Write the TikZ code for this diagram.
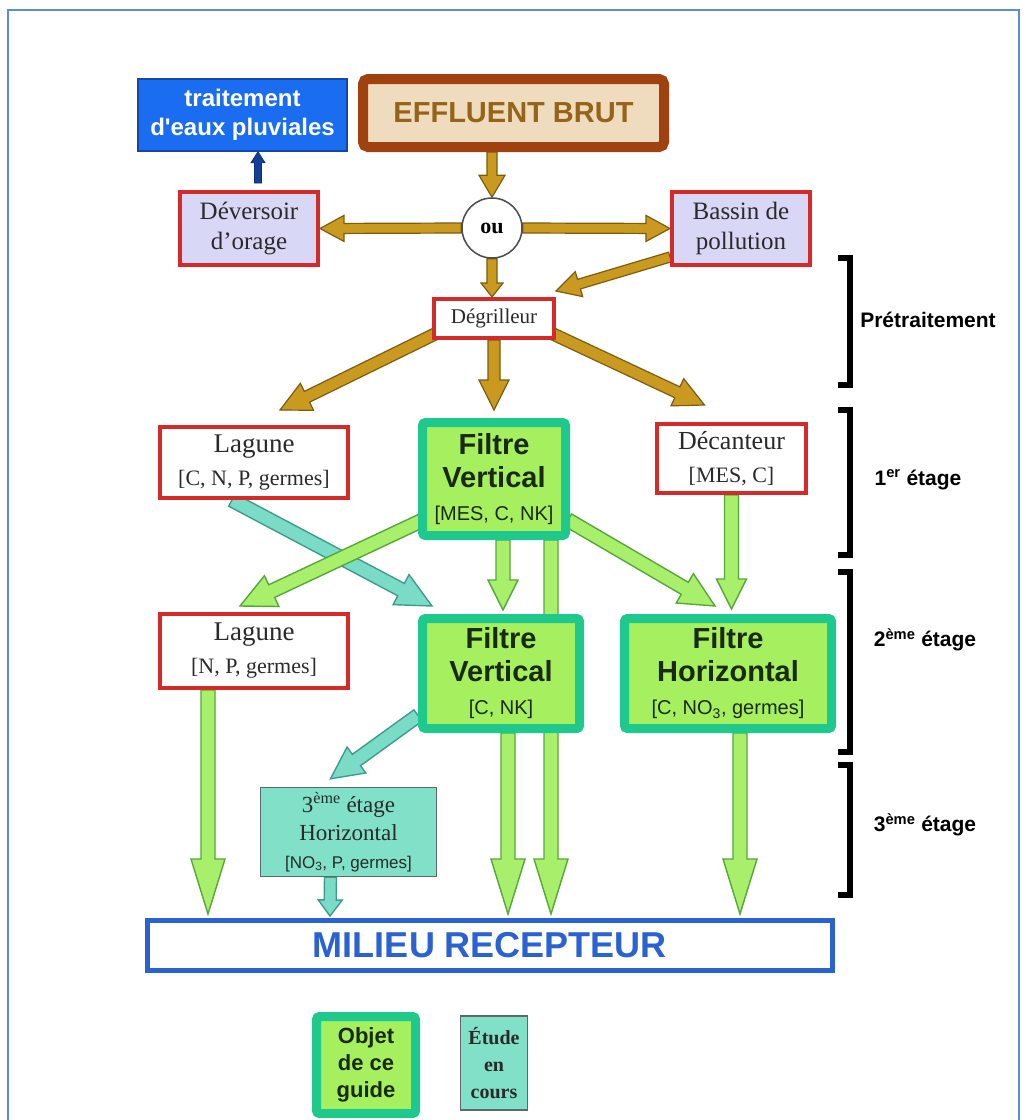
\documentclass[tikz,border=0pt]{standalone}
\usepackage{fontspec}
\setmainfont{Liberation Serif}
\newfontfamily\arial{Liberation Sans}
\usetikzlibrary{calc}
\pgfdeclarelayer{bg}
\pgfsetlayers{bg,main}
\definecolor{framec}{HTML}{5B8FD0}
\definecolor{pluvf}{HTML}{1A6CF0}
\definecolor{pluvd}{HTML}{1546A8}
\definecolor{effd}{HTML}{A0420F}
\definecolor{efff}{HTML}{EFDCBE}
\definecolor{efft}{HTML}{966418}
\definecolor{redc}{HTML}{D42A2A}
\definecolor{lavf}{HTML}{D8D8F6}
\definecolor{greenf}{HTML}{A6EF5E}
\definecolor{greenb}{HTML}{1FC98E}
\definecolor{tealf}{HTML}{80E0C8}
\definecolor{teald}{HTML}{5A6A66}
\definecolor{milc}{HTML}{2A62D2}
\definecolor{goldf}{HTML}{C99A1F}
\definecolor{goldd}{HTML}{7D5C12}
\definecolor{greenA}{HTML}{A8F06C}
\definecolor{greenAd}{HTML}{55A838}
\definecolor{tealA}{HTML}{7ADCC6}
\definecolor{tealAd}{HTML}{3F9C8C}
\definecolor{textc}{HTML}{2A2A2A}
\definecolor{gtext}{HTML}{1A2A10}
\newcommand{\fs}[2]{\fontsize{#1}{#2}\selectfont}
% fat arrow: style, from, to, half shaft, half head, head length
\newcommand{\fatarrow}[6]{%
  \coordinate (fah) at ($(#3)!#6!(#2)$);
  \path[#1] ($(#2)!#4!90:(#3)$) -- ($(fah)!#4!-90:(#2)$) -- ($(fah)!#5!-90:(#2)$) -- (#3)
    -- ($(fah)!#5!90:(#2)$) -- ($(fah)!#4!90:(#2)$) -- ($(#2)!#4!-90:(#3)$) -- cycle;}
\tikzset{
  box/.style={align=center, inner sep=0pt, text=textc},
  bluebox/.style={box, draw=pluvd, line width=1.5pt, fill=pluvf, text=white,
    font=\arial\bfseries\fs{24}{29}},
  efflbox/.style={box, draw=effd, line width=10pt, fill=efff, rounded corners=5pt,
    text=efft, font=\arial\bfseries\fs{29}{34}},
  redbox/.style={box, draw=redc, line width=4pt, fill=white, font=\fs{26}{30}},
  lavbox/.style={redbox, fill=lavf, font=\fs{25}{30}},
  greenbox/.style={box, draw=greenb, line width=9pt, fill=greenf, rounded corners=3pt,
    text=gtext, font=\arial\bfseries\fs{29}{33}},
  tealbox/.style={box, draw=teald, line width=1.5pt, fill=tealf},
  milbox/.style={box, draw=milc, line width=5pt, fill=white, text=milc,
    font=\arial\bfseries\fs{36}{40}},
  oucirc/.style={circle, draw=black!70, line width=1.5pt, fill=white, inner sep=0pt,
    minimum size=60pt, font=\bfseries\fs{22}{24}},
  goldarr/.style={fill=goldf, draw=goldd, line width=1.2pt, line join=miter},
  greenarr/.style={fill=greenA, draw=greenAd, line width=1.4pt, line join=miter},
  tealarr/.style={fill=tealA, draw=tealAd, line width=1.4pt, line join=miter},
  bluearr/.style={fill=pluvd!90!black, draw=pluvd!70!black, line width=0.8pt},
  brk/.style={line width=6pt, black, line join=miter},
  lab/.style={font=\arial\bfseries\fs{21}{24}, text=black, inner sep=0pt}
}
\begin{document}
\begin{tikzpicture}[x=1pt,y=-1pt]
\useasboundingbox (0,0) rectangle (1026,1120);
\begin{pgfonlayer}{bg}
\fill[white] (0,0) rectangle (1026,1120);
\end{pgfonlayer}
\draw[framec, line width=1.5pt] (8,10) rectangle (1019,1140);

% nodes
\node[bluebox, minimum width=209pt, minimum height=72pt] (pluv) at (242.5,115) {traitement\\d'eaux pluviales};
\node[efflbox, minimum width=301pt, minimum height=68pt] (eff) at (513.5,113) {EFFLUENT BRUT};
\node[lavbox, minimum width=138pt, minimum height=73pt] (dev) at (249,228.5) {Déversoir\\d'orage};
\node[oucirc] (ou) at (492,228) {ou};
\node[lavbox, minimum width=138pt, minimum height=73pt] (bas) at (741,228.5) {Bassin de\\pollution};
\node[redbox, font=\fs{21}{24}, minimum width=120pt, minimum height=39pt] (deg) at (494,318.5) {Dégrilleur};
\node[redbox, font=\fs{27}{30}, minimum width=188pt, minimum height=71pt] (lag1) at (254,462.5)
  {Lagune\\[3pt]\fs{22}{26}\relax[C, N, P, germes]};
\node[greenbox, minimum width=143pt, minimum height=113pt] (fv1) at (494,479)
  {Filtre\\Vertical\\\mdseries\fs{20}{26}\relax[MES, C, NK]};
\node[redbox, minimum width=149pt, minimum height=69pt] (dec) at (731.5,458.5)
  {Décanteur\\[3pt]\fs{22}{26}\relax[MES, C]};
\node[redbox, font=\fs{27}{30}, minimum width=188pt, minimum height=74pt] (lag2) at (254,651)
  {Lagune\\[3pt]\fs{22}{26}\relax[N, P, germes]};
\node[greenbox, minimum width=157pt, minimum height=110pt] (fv2) at (501,673.5)
  {Filtre\\Vertical\\\mdseries\fs{20}{26}\relax[C, NK]};
\node[greenbox, minimum width=207pt, minimum height=110pt] (fh) at (728,673.5)
  {Filtre\\Horizontal\\\mdseries\fs{20}{26}\relax[C, NO\textsubscript{3}, germes]};
\node[tealbox, font=\fs{23}{28}, minimum width=176pt, minimum height=89pt] (e3) at (348.5,832)
  {3\textsuperscript{ème} étage\\Horizontal\\\arial\fs{17}{21}\relax[NO\textsubscript{3}, P, germes]};
\node[milbox, minimum width=685pt, minimum height=50pt] (mil) at (490,945.5) {MILIEU RECEPTEUR};
\node[greenbox, font=\arial\bfseries\fs{22}{27}, minimum width=99pt, minimum height=97pt] (obj) at (366,1065) {Objet\\de ce\\guide};
\node[tealbox, font=\bfseries\fs{20}{27}, minimum width=67pt, minimum height=94pt] (etu) at (494,1063) {Étude\\en\\cours};

% stage labels
\node[lab] (l1) at (928,320) {Prétraitement};
\node[lab] (l2) at (918,480) {1\textsuperscript{er} étage};
\node[lab] (l3) at (925,640) {2\textsuperscript{ème} étage};
\node[lab] (l4) at (925,825) {3\textsuperscript{ème} étage};
\draw[brk] (838,258) -- (850,258) -- (850,385) -- (838,385);
\draw[brk] (838,410) -- (850,410) -- (850,555) -- (838,555);
\draw[brk] (838,572) -- (850,572) -- (850,752) -- (838,752);
\draw[brk] (838,765) -- (850,765) -- (850,895) -- (838,895);

% connector end points
\coordinate (a1) at (eff.south -| ou.north);
\coordinate (o1) at (ou.south |- deg.north);
\coordinate (b1) at ($(bas.south west)+(0,-10)$);
\coordinate (b2) at ($(deg.north east)+(0,-6)$);
\coordinate (d1) at ($(deg.south west)+(3,-6)$);
\coordinate (d2) at ($(lag1.north east)+(-70,-15)$);
\coordinate (d3) at (deg.south);
\coordinate (d4) at ($(fv1.north)+(0,-8)$);
\coordinate (d5) at ($(deg.south east)+(-3,-6)$);
\coordinate (d6) at ($(dec.north)+(-27,-17)$);
\coordinate (p1) at ($(dev.north)+(9,-7)$);
\coordinate (p2) at ($(pluv.south)+(15.5,0)$);
\coordinate (f1) at ($(fv1.south west)+(5,-20)$);
\coordinate (f2) at ($(lag2.north)+(-14,-6)$);
\coordinate (f3) at ($(fv1.south)+(9,0)$);
\coordinate (f4) at ($(fv2.north)+(2,-4)$);
\coordinate (f5) at ($(fv1.south)+(57,0)$);
\coordinate (f6) at ($(mil.north)+(61,-4)$);
\coordinate (f7) at ($(fv1.south east)+(-2,-20)$);
\coordinate (f8) at ($(fh.north)+(-13,-8)$);
\coordinate (f9) at (dec.south);
\coordinate (f10) at ($(fh.north)+(3.5,-5)$);
\coordinate (g1) at ($(lag2.south)+(-46,0)$);
\coordinate (g2) at ($(mil.north)+(-282,-4)$);
\coordinate (g3) at ($(fv2.south)+(7,0)$);
\coordinate (g4) at ($(mil.north)+(18,-4)$);
\coordinate (g5) at ($(fh.south)+(12,0)$);
\coordinate (g6) at ($(mil.north)+(250,-4)$);
\coordinate (t1) at ($(lag1.south)+(-22,0)$);
\coordinate (t2) at ($(fv2.north west)+(14,-8)$);
\coordinate (t3) at ($(fv2.west)+(0,42)$);
\coordinate (t4) at ($(e3.north)+(-18,-8)$);
\coordinate (t5) at ($(e3.south)+(-18,0)$);
\coordinate (t6) at ($(mil.north)+(-160,-2)$);

\begin{pgfonlayer}{bg}
  % gold
  \fatarrow{goldarr}{a1}{ou.north}{5pt}{13pt}{22pt}
  \fatarrow{goldarr}{ou.west}{dev.east}{5pt}{13pt}{24pt}
  \fatarrow{goldarr}{ou.east}{bas.west}{5pt}{13pt}{24pt}
  \fatarrow{goldarr}{ou.south}{o1}{5pt}{11pt}{14pt}
  \fatarrow{goldarr}{b1}{b2}{5pt}{13pt}{24pt}
  \fatarrow{goldarr}{d1}{d2}{6pt}{15pt}{30pt}
  \fatarrow{goldarr}{d3}{d4}{6pt}{15pt}{30pt}
  \fatarrow{goldarr}{d5}{d6}{6pt}{15pt}{30pt}
  % blue
  \fatarrow{bluearr}{p1}{p2}{3.5pt}{7pt}{11pt}
  % teal
  \fatarrow{tealarr}{t1}{t2}{7pt}{17pt}{35pt}
  \fatarrow{tealarr}{t3}{t4}{7pt}{16pt}{32pt}
  \fatarrow{tealarr}{t5}{t6}{6pt}{12pt}{16pt}
  % green
  \fatarrow{greenarr}{f5}{f6}{7pt}{17pt}{55pt}
  \fatarrow{greenarr}{f1}{f2}{7pt}{17pt}{35pt}
  \fatarrow{greenarr}{f3}{f4}{7pt}{15pt}{30pt}
  \fatarrow{greenarr}{f7}{f8}{7pt}{17pt}{35pt}
  \fatarrow{greenarr}{f9}{f10}{7pt}{15pt}{30pt}
  \fatarrow{greenarr}{g1}{g2}{7pt}{17pt}{55pt}
  \fatarrow{greenarr}{g3}{g4}{7pt}{17pt}{55pt}
  \fatarrow{greenarr}{g5}{g6}{7pt}{17pt}{55pt}
\end{pgfonlayer}
\end{tikzpicture}
\end{document}
